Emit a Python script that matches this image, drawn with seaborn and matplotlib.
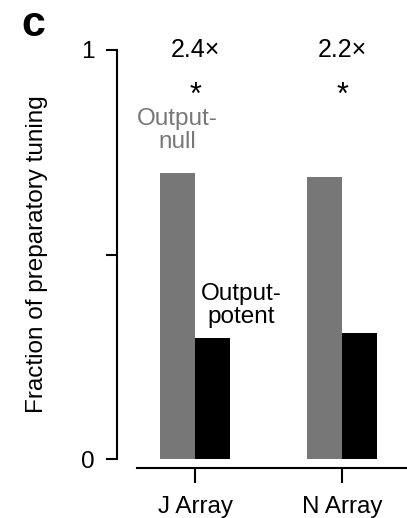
import matplotlib
matplotlib.use("Agg")
import matplotlib.pyplot as plt
import seaborn as sns
import pandas as pd

# Fraction of preparatory tuning per array and subspace
arrays = ["J Array", "N Array"]
subspaces = ["Output-null", "Output-potent"]
null_values = [0.70, 0.69]
potent_values = [0.295, 0.308]
ratio_labels = ["2.4\u00d7", "2.2\u00d7"]
significance = ["*", "*"]
y_ticks = [0, 0.5, 1]
y_tick_labels = ["0", "", "1"]

df = pd.DataFrame({
    "array": arrays * 2,
    "subspace": [subspaces[0]] * 2 + [subspaces[1]] * 2,
    "value": null_values + potent_values,
})

sns.set_theme(style="ticks")
plt.rcParams["font.family"] = ["Liberation Sans", "DejaVu Sans"]
plt.rcParams["text.color"] = "black"
plt.rcParams["axes.labelcolor"] = "black"

FS = 17.5

fig = plt.figure(figsize=(4.07, 5.18), dpi=100)
ax = fig.add_axes([137 / 407, 59 / 518, 1 - 137 / 407, 409 / 518])

sns.barplot(data=df, x="array", y="value", hue="subspace",
            palette=["#777777", "#000000"], width=0.476, gap=0,
            saturation=1, legend=False, ax=ax, linewidth=0)

ax.set_xlim(-0.395, 1.44)
ax.set_ylim(0, 1)
ax.set_yticks(y_ticks)
ax.set_yticklabels(y_tick_labels)
ax.set_xlabel("")
ax.set_ylabel("Fraction of preparatory tuning", fontsize=FS, labelpad=24)

for side in ["top", "right"]:
    ax.spines[side].set_visible(False)
ax.spines["left"].set_position(("outward", 14.4))
ax.spines["bottom"].set_position(("outward", 6.5))
for side in ["left", "bottom"]:
    ax.spines[side].set_linewidth(1.5)
    ax.spines[side].set_color("black")

ax.tick_params(axis="y", length=8, width=1.5, pad=8, labelsize=FS, colors="black")
ax.tick_params(axis="x", length=10.8, width=1.5, pad=9, labelsize=FS, colors="black")

for i, (r, s) in enumerate(zip(ratio_labels, significance)):
    ax.text(i, 1.0, r, ha="center", va="center", fontsize=18, clip_on=False)
    ax.text(i, 0.888, s, ha="center", va="center", fontsize=22, clip_on=False)

ax.text(-0.12, 0.803, "Output-\nnull", ha="center", va="center",
        fontsize=FS, color="#777777", linespacing=1.05)
ax.text(0.313, 0.375, "Output-\npotent", ha="center", va="center",
        fontsize=FS, color="black", linespacing=1.05)

fig.text(21 / 407, 1 - 25 / 518, "c", fontsize=31, fontweight="bold",
         ha="left", va="center")

fig.savefig("out.png", dpi=100)
